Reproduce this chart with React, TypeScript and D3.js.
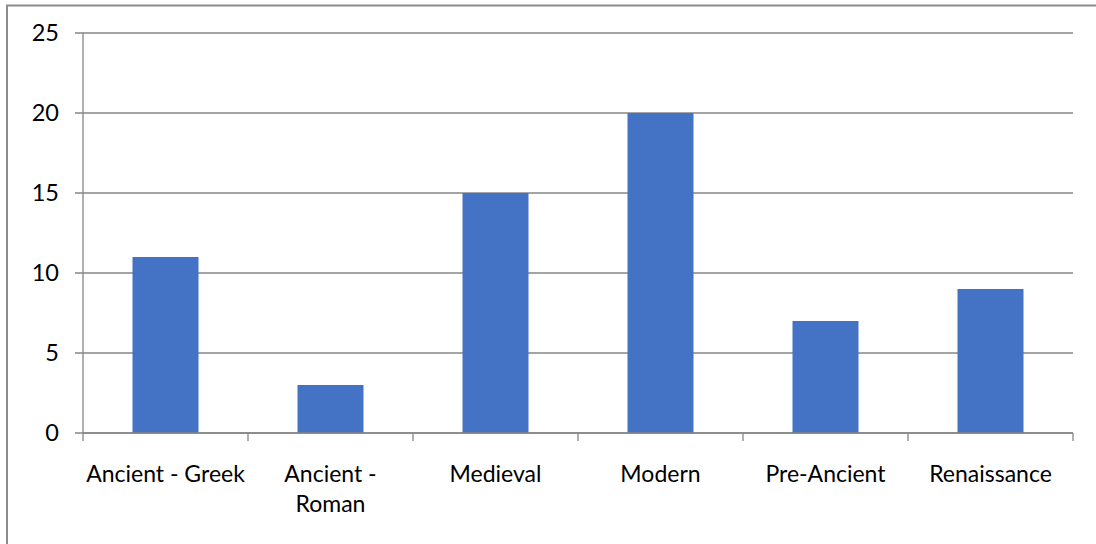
import React from "react";
import * as d3 from "d3";

const categories: string[][] = [
  ["Ancient - Greek"],
  ["Ancient -", "Roman"],
  ["Medieval"],
  ["Modern"],
  ["Pre-Ancient"],
  ["Renaissance"],
];
const values: number[] = [11, 3, 15, 20, 7, 9];
const yTicks: number[] = [0, 5, 10, 15, 20, 25];

const W = 1096;
const H = 544;
const plot = { left: 83, right: 1073, top: 33, bottom: 433 };
const FONT = "Lato, 'Open Sans', sans-serif";
const GRID = "#868686";
const BAR = "#4472C4";

export default function App() {
  const keys = categories.map((c) => c.join(" "));
  const x = d3
    .scaleBand<string>()
    .domain(keys)
    .range([plot.left, plot.right])
    .paddingInner(0.6)
    .paddingOuter(0.3);
  const band = (plot.right - plot.left) / keys.length;
  const y = d3.scaleLinear().domain([0, 25]).range([plot.bottom, plot.top]);

  return (
    <svg
      width={W}
      height={H}
      style={{ position: "absolute", left: 0, top: 0, display: "block" }}
      fontFamily={FONT}
    >
      <rect x={0} y={0} width={W} height={H} fill="#fff" />
      {/* chart frame */}
      <rect x={7} y={5.5} width={W + 20} height={H + 20} fill="none" stroke="#8c8c8c" strokeWidth={2} />

      {/* horizontal gridlines and y ticks */}
      {yTicks.map((t) => (
        <g key={t}>
          <line x1={plot.left - 8} x2={plot.right} y1={y(t)} y2={y(t)} stroke={GRID} strokeWidth={1.3} />
          <text x={59} y={y(t)} dy="0.36em" textAnchor="end" fontSize={23.5} fill="#000">
            {t}
          </text>
        </g>
      ))}

      {/* bars */}
      {keys.map((k, i) => (
        <rect
          key={k}
          x={x(k)!}
          y={y(values[i])}
          width={x.bandwidth()}
          height={y(0) - y(values[i])}
          fill={BAR}
        />
      ))}

      {/* axes */}
      <line x1={plot.left} x2={plot.left} y1={plot.top} y2={plot.bottom} stroke={GRID} strokeWidth={1.3} />
      <line x1={plot.left} x2={plot.right} y1={plot.bottom} y2={plot.bottom} stroke={GRID} strokeWidth={1.3} />
      {d3.range(keys.length + 1).map((i) => (
        <line
          key={i}
          x1={plot.left + i * band}
          x2={plot.left + i * band}
          y1={plot.bottom}
          y2={plot.bottom + 8}
          stroke={GRID}
          strokeWidth={1.3}
        />
      ))}

      {/* category labels */}
      {categories.map((lines, i) => (
        <text
          key={i}
          x={plot.left + (i + 0.5) * band}
          y={482}
          textAnchor="middle"
          fontSize={23}
          fill="#000"
        >
          {lines.map((l, j) => (
            <tspan key={j} x={plot.left + (i + 0.5) * band} dy={j === 0 ? 0 : 30}>
              {l}
            </tspan>
          ))}
        </text>
      ))}
    </svg>
  );
}
